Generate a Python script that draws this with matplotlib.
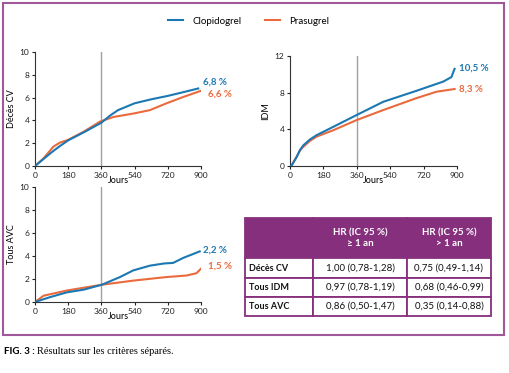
import matplotlib.pyplot as plt
from matplotlib.patches import Rectangle

plt.rcParams['font.family'] = ['Lato', 'DejaVu Sans']

BLUE = '#1b78b3'
ORANGE = '#ea6a3d'
PURPLE = '#862f7d'
FRAME = '#a0589b'

xticks = [0, 180, 360, 540, 720, 900]

# Décès CV
cv_days_c = [0, 45, 90, 135, 180, 270, 360, 405, 450, 540, 630, 720, 810, 885]
cv_clopi = [0, 0.6, 1.2, 1.75, 2.25, 3.0, 3.8, 4.4, 4.9, 5.5, 5.85, 6.15, 6.5, 6.8]
cv_days_p = [0, 45, 100, 135, 180, 263, 353, 425, 533, 623, 713, 803, 900]
cv_prasu = [0, 0.65, 1.7, 2.05, 2.3, 3.0, 3.9, 4.3, 4.6, 4.9, 5.5, 6.05, 6.6]

# IDM
idm_days_c = [0, 10, 20, 36, 54, 72, 108, 143, 233, 358, 502, 681, 825, 870, 887]
idm_clopi = [0, 0.1, 0.45, 1.0, 1.75, 2.26, 2.9, 3.36, 4.27, 5.55, 7.0, 8.2, 9.2, 9.7, 10.6]
idm_days_p = [0, 10, 20, 36, 54, 72, 108, 143, 233, 358, 502, 681, 789, 887]
idm_prasu = [0, 0.1, 0.45, 1.0, 1.7, 2.1, 2.75, 3.2, 3.9, 5.0, 6.1, 7.4, 8.1, 8.4]

# Tous AVC
avc_days_c = [0, 83, 173, 263, 362, 461, 533, 623, 700, 749, 803, 893]
avc_clopi = [0, 0.43, 0.84, 1.07, 1.5, 2.17, 2.75, 3.16, 3.35, 3.4, 3.83, 4.4]
avc_days_p = [0, 47, 173, 362, 533, 713, 821, 875, 900]
avc_prasu = [0, 0.55, 1.0, 1.5, 1.86, 2.17, 2.3, 2.5, 2.9]

col_labels = ['', 'HR (IC 95 %)\n≥ 1 an', 'HR (IC 95 %)\n> 1 an']
row_labels = ['Décès CV', 'Tous IDM', 'Tous AVC']
hr_first = ['1,00 (0,78-1,28)', '0,97 (0,78-1,19)', '0,86 (0,50-1,47)']
hr_after = ['0,75 (0,49-1,14)', '0,68 (0,46-0,99)', '0,35 (0,14-0,88)']

W, H = 509, 373
fig = plt.figure(figsize=(W / 100, H / 100), dpi=100)


def px(x0, y0, x1, y1):
    return [x0 / W, 1 - y1 / H, (x1 - x0) / W, (y1 - y0) / H]


def panel(rect, days_c, clopi, days_p, prasu, ylim, yticks, ylabel, lab_c, lab_p, ylab_c, ylab_p):
    ax = fig.add_axes(rect)
    ax.axvline(360, color='#a0a0a0', lw=1, zorder=1)
    ax.plot(days_c, clopi, color=BLUE, lw=1.5, zorder=3)
    ax.plot(days_p, prasu, color=ORANGE, lw=1.5, zorder=2)
    ax.set_xlim(0, 900)
    ax.set_ylim(0, ylim)
    ax.set_xticks(xticks)
    ax.set_yticks(yticks)
    for s in ['top', 'right']:
        ax.spines[s].set_visible(False)
    for s in ['left', 'bottom']:
        ax.spines[s].set_color('#333333')
        ax.spines[s].set_linewidth(0.8)
    ax.tick_params(labelsize=6, length=2.5, width=0.8, pad=1.5, colors='#222222')
    ax.set_ylabel(ylabel, fontsize=6.5, labelpad=3)
    ax.set_xlabel('Jours', fontsize=6.5, labelpad=-2)
    ax.text(910, ylab_c, lab_c, color=BLUE, fontsize=7, fontweight='bold',
            va='center', ha='left', clip_on=False)
    ax.text(940, ylab_p, lab_p, color=ORANGE, fontsize=7, fontweight='bold',
            va='center', ha='left', clip_on=False)
    return ax


ax1 = panel(px(35, 52, 201, 166), cv_days_c, cv_clopi, cv_days_p, cv_prasu,
            10, [0, 2, 4, 6, 8, 10], 'Décès CV', '6,8 %', '6,6 %', 7.4, 6.3)
ax1.lines[1].set_label('Clopidogrel')
ax1.lines[2].set_label('Prasugrel')
ax2 = panel(px(290, 56, 457, 166), idm_days_c, idm_clopi, idm_days_p, idm_prasu,
            12, [0, 4, 8, 12], 'IDM', '10,5 %', '8,3 %', 10.7, 8.4)
ax2.texts[1].set_x(910)
ax3 = panel(px(35, 187, 201, 302), avc_days_c, avc_clopi, avc_days_p, avc_prasu,
            10, [0, 2, 4, 6, 8, 10], 'Tous AVC', '2,2 %', '1,5 %', 4.5, 3.1)

fig.legend(handles=[ax1.lines[1], ax1.lines[2]], loc='center', ncol=2,
           bbox_to_anchor=(249 / W, 1 - 21 / H), frameon=False, fontsize=7,
           handlelength=1.5, handletextpad=1.0, columnspacing=2.4)

# table
tax = fig.add_axes(px(245, 218, 491, 316))
tax.axis('off')
cells = [col_labels] + [[r, a, b] for r, a, b in zip(row_labels, hr_first, hr_after)]
tbl = tax.table(cellText=cells, cellLoc='center', bbox=[0, 0, 1, 1])
tbl.auto_set_font_size(False)
widths = [68, 94, 84]
heights = [40, 19, 19, 19]
for (r, c), cell in tbl.get_celld().items():
    cell.set_width(widths[c])
    cell.set_height(heights[r])
    cell.set_edgecolor(PURPLE)
    cell.set_linewidth(1.3)
    t = cell.get_text()
    t.set_fontsize(7)
    if r == 0:
        cell.set_facecolor(PURPLE)
        t.set_color('white')
        t.set_fontweight('bold')
        t.set_linespacing(1.3)
    else:
        cell.set_facecolor('white')
        t.set_color('#111111')
    if c == 0 and r > 0:
        t.set_fontweight('bold')
        t.set_fontsize(6.5)
        t.set_horizontalalignment('left')
        cell.PAD = 0.06

fig.patches.append(Rectangle((3 / W, 1 - 335 / H), 501 / W, 332 / H, transform=fig.transFigure,
                             fill=False, edgecolor=FRAME, lw=1.5))

fig.text(4 / W, 1 - 352 / H, 'FIG. 3 :', fontsize=7, fontweight='bold', va='center')
fig.text(37 / W, 1 - 352 / H, 'Résultats sur les critères séparés.', fontsize=7.5,
         family=['Liberation Serif', 'DejaVu Serif'], va='center')

fig.savefig('out.png', dpi=100)
